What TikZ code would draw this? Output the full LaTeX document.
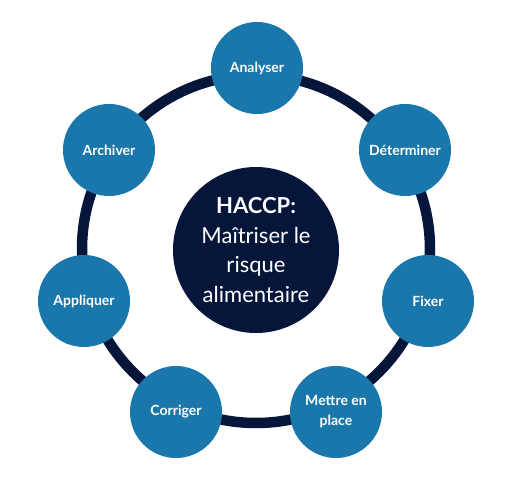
\documentclass[tikz,border=0pt]{standalone}
\usepackage{fontspec}
\setmainfont{Lato}
\definecolor{stepblue}{HTML}{1A77AB}
\definecolor{navy}{HTML}{06163A}
\tikzset{
  stepnode/.style={circle, fill=stepblue, minimum size=92pt, inner sep=0pt, text=white,
    font=\fontsize{14}{20}\selectfont\bfseries, align=center},
  hubnode/.style={circle, fill=navy, minimum size=166pt, inner sep=0pt, text=white,
    font=\fontsize{22}{29.5}\selectfont, align=center},
  ring/.style={draw=navy, line width=10.5pt}
}
\begin{document}
\begin{tikzpicture}[x=1pt,y=-1pt]
\useasboundingbox (0,0) rectangle (514,495);
\coordinate (ringc) at (256,249);
\draw[ring] (ringc) circle[radius=174];
\node[hubnode] (hub) at (256,250) {\textbf{HACCP:}\\Maîtriser le\\risque\\alimentaire};
\node[stepnode] (analyser) at (257,68) {Analyser};
\node[stepnode] (determiner) at (405,150) {Déterminer};
\node[stepnode] (fixer) at (428,301) {Fixer};
\node[stepnode] (mettre) at (336,412) {Mettre en\\place};
\node[stepnode] (corriger) at (176,412) {Corriger};
\node[stepnode] (appliquer) at (84,301) {Appliquer};
\node[stepnode] (archiver) at (109,150) {Archiver};
\end{tikzpicture}
\end{document}
